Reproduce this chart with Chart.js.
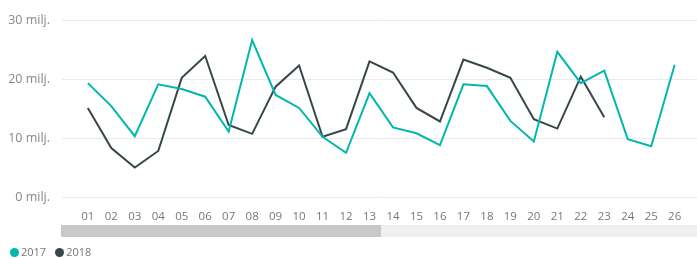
<!DOCTYPE html>
<html>
<head>
<meta charset="utf-8">
<script src="https://cdn.jsdelivr.net/npm/chart.js@4"></script>
<style>
  html, body { margin: 0; padding: 0; background: #fff; }
  #wrap { width: 697px; height: 259px; position: relative; }
  #legend { position: absolute; left: 10px; top: 245px; font: 11px 'Open Sans', sans-serif; color: #777; line-height: 14px; white-space: nowrap; }
  #legend span.item { display: inline-block; margin-right: 9px; }
  #legend span.dot { display: inline-block; width: 9px; height: 9px; border-radius: 50%; margin-right: 2px; vertical-align: -1px; }
</style>
</head>
<body>
<div id="wrap"><canvas id="myChart" width="697" height="259"></canvas><div id="legend"></div></div>
<script>
const weeks = ['01','02','03','04','05','06','07','08','09','10','11','12','13',
               '14','15','16','17','18','19','20','21','22','23','24','25','26'];
const sales2017 = [19.3, 15.4, 10.3, 19.1, 18.3, 17.0, 11.1, 26.6, 17.3, 15.1, 10.2, 7.5, 17.6,
                   11.8, 10.8, 8.8, 19.1, 18.8, 12.9, 9.4, 24.6, 19.3, 21.4, 9.8, 8.6, 22.4];
const sales2018 = [15.1, 8.3, 5.0, 7.8, 20.2, 23.9, 12.2, 10.7, 18.7, 22.3, 10.2, 11.5, 23.0,
                   21.1, 15.1, 12.8, 23.3, 21.9, 20.2, 13.2, 11.6, 20.4, 13.5];
const yTicks = [0, 10, 20, 30];

const toPoints = arr => arr.map((v, i) => ({ x: i + 1, y: v }));

// fake scrollbar under the x axis, like the original visual
const scrollbar = {
  id: 'scrollbar',
  afterDraw(chart) {
    const c = chart.ctx;
    const area = chart.chartArea;
    c.save();
    c.fillStyle = '#f0f0f0';
    c.fillRect(61, 225, area.right - 61, 12);
    c.fillStyle = '#c8c8c8';
    c.fillRect(61, 225, 320, 12);
    c.restore();
  }
};

const ctx = document.getElementById('myChart');

const chart = new Chart(ctx, {
  type: 'line',
  data: {
    datasets: [{
      label: '2017',
      data: toPoints(sales2017),
      borderColor: '#01B8AA',
      backgroundColor: '#01B8AA',
      borderWidth: 2,
      pointRadius: 0,
      tension: 0
    }, {
      label: '2018',
      data: toPoints(sales2018),
      borderColor: '#374649',
      backgroundColor: '#374649',
      borderWidth: 2,
      pointRadius: 0,
      tension: 0
    }]
  },
  options: {
    responsive: false,
    animation: false,
    maintainAspectRatio: false,
    layout: { padding: { top: 20, right: 0, left: 0, bottom: 0 } },
    plugins: {
      tooltip: { enabled: false },
      legend: { display: false }
    },
    scales: {
      x: {
        type: 'linear',
        min: -0.1,
        max: 26.95,
        grid: { display: false, drawTicks: false },
        border: { display: false },
        afterBuildTicks: scale => {
          scale.ticks = weeks.map((w, i) => ({ value: i + 1 }));
        },
        afterFit: scale => { scale.height = 62; },
        ticks: {
          autoSkip: false,
          maxRotation: 0,
          padding: 13,
          color: '#777',
          font: { family: 'Open Sans', size: 11.5 },
          callback: v => weeks[v - 1]
        }
      },
      y: {
        min: 0,
        max: 30,
        afterBuildTicks: scale => {
          scale.ticks = yTicks.map(v => ({ value: v }));
        },
        afterFit: scale => { scale.width = 62; },
        grid: { color: '#eaeaea', drawTicks: false },
        border: { display: false },
        ticks: {
          padding: 12,
          color: '#888',
          font: { family: 'Open Sans', size: 12.5 },
          callback: v => v + ' milj.'
        }
      }
    }
  },
  plugins: [scrollbar]
});

// legend below the scrollbar
document.getElementById('legend').innerHTML = chart.data.datasets.map(ds =>
  '<span class="item"><span class="dot" style="background:' + ds.borderColor + '"></span>' + ds.label + '</span>'
).join('');
</script>
</body>
</html>
